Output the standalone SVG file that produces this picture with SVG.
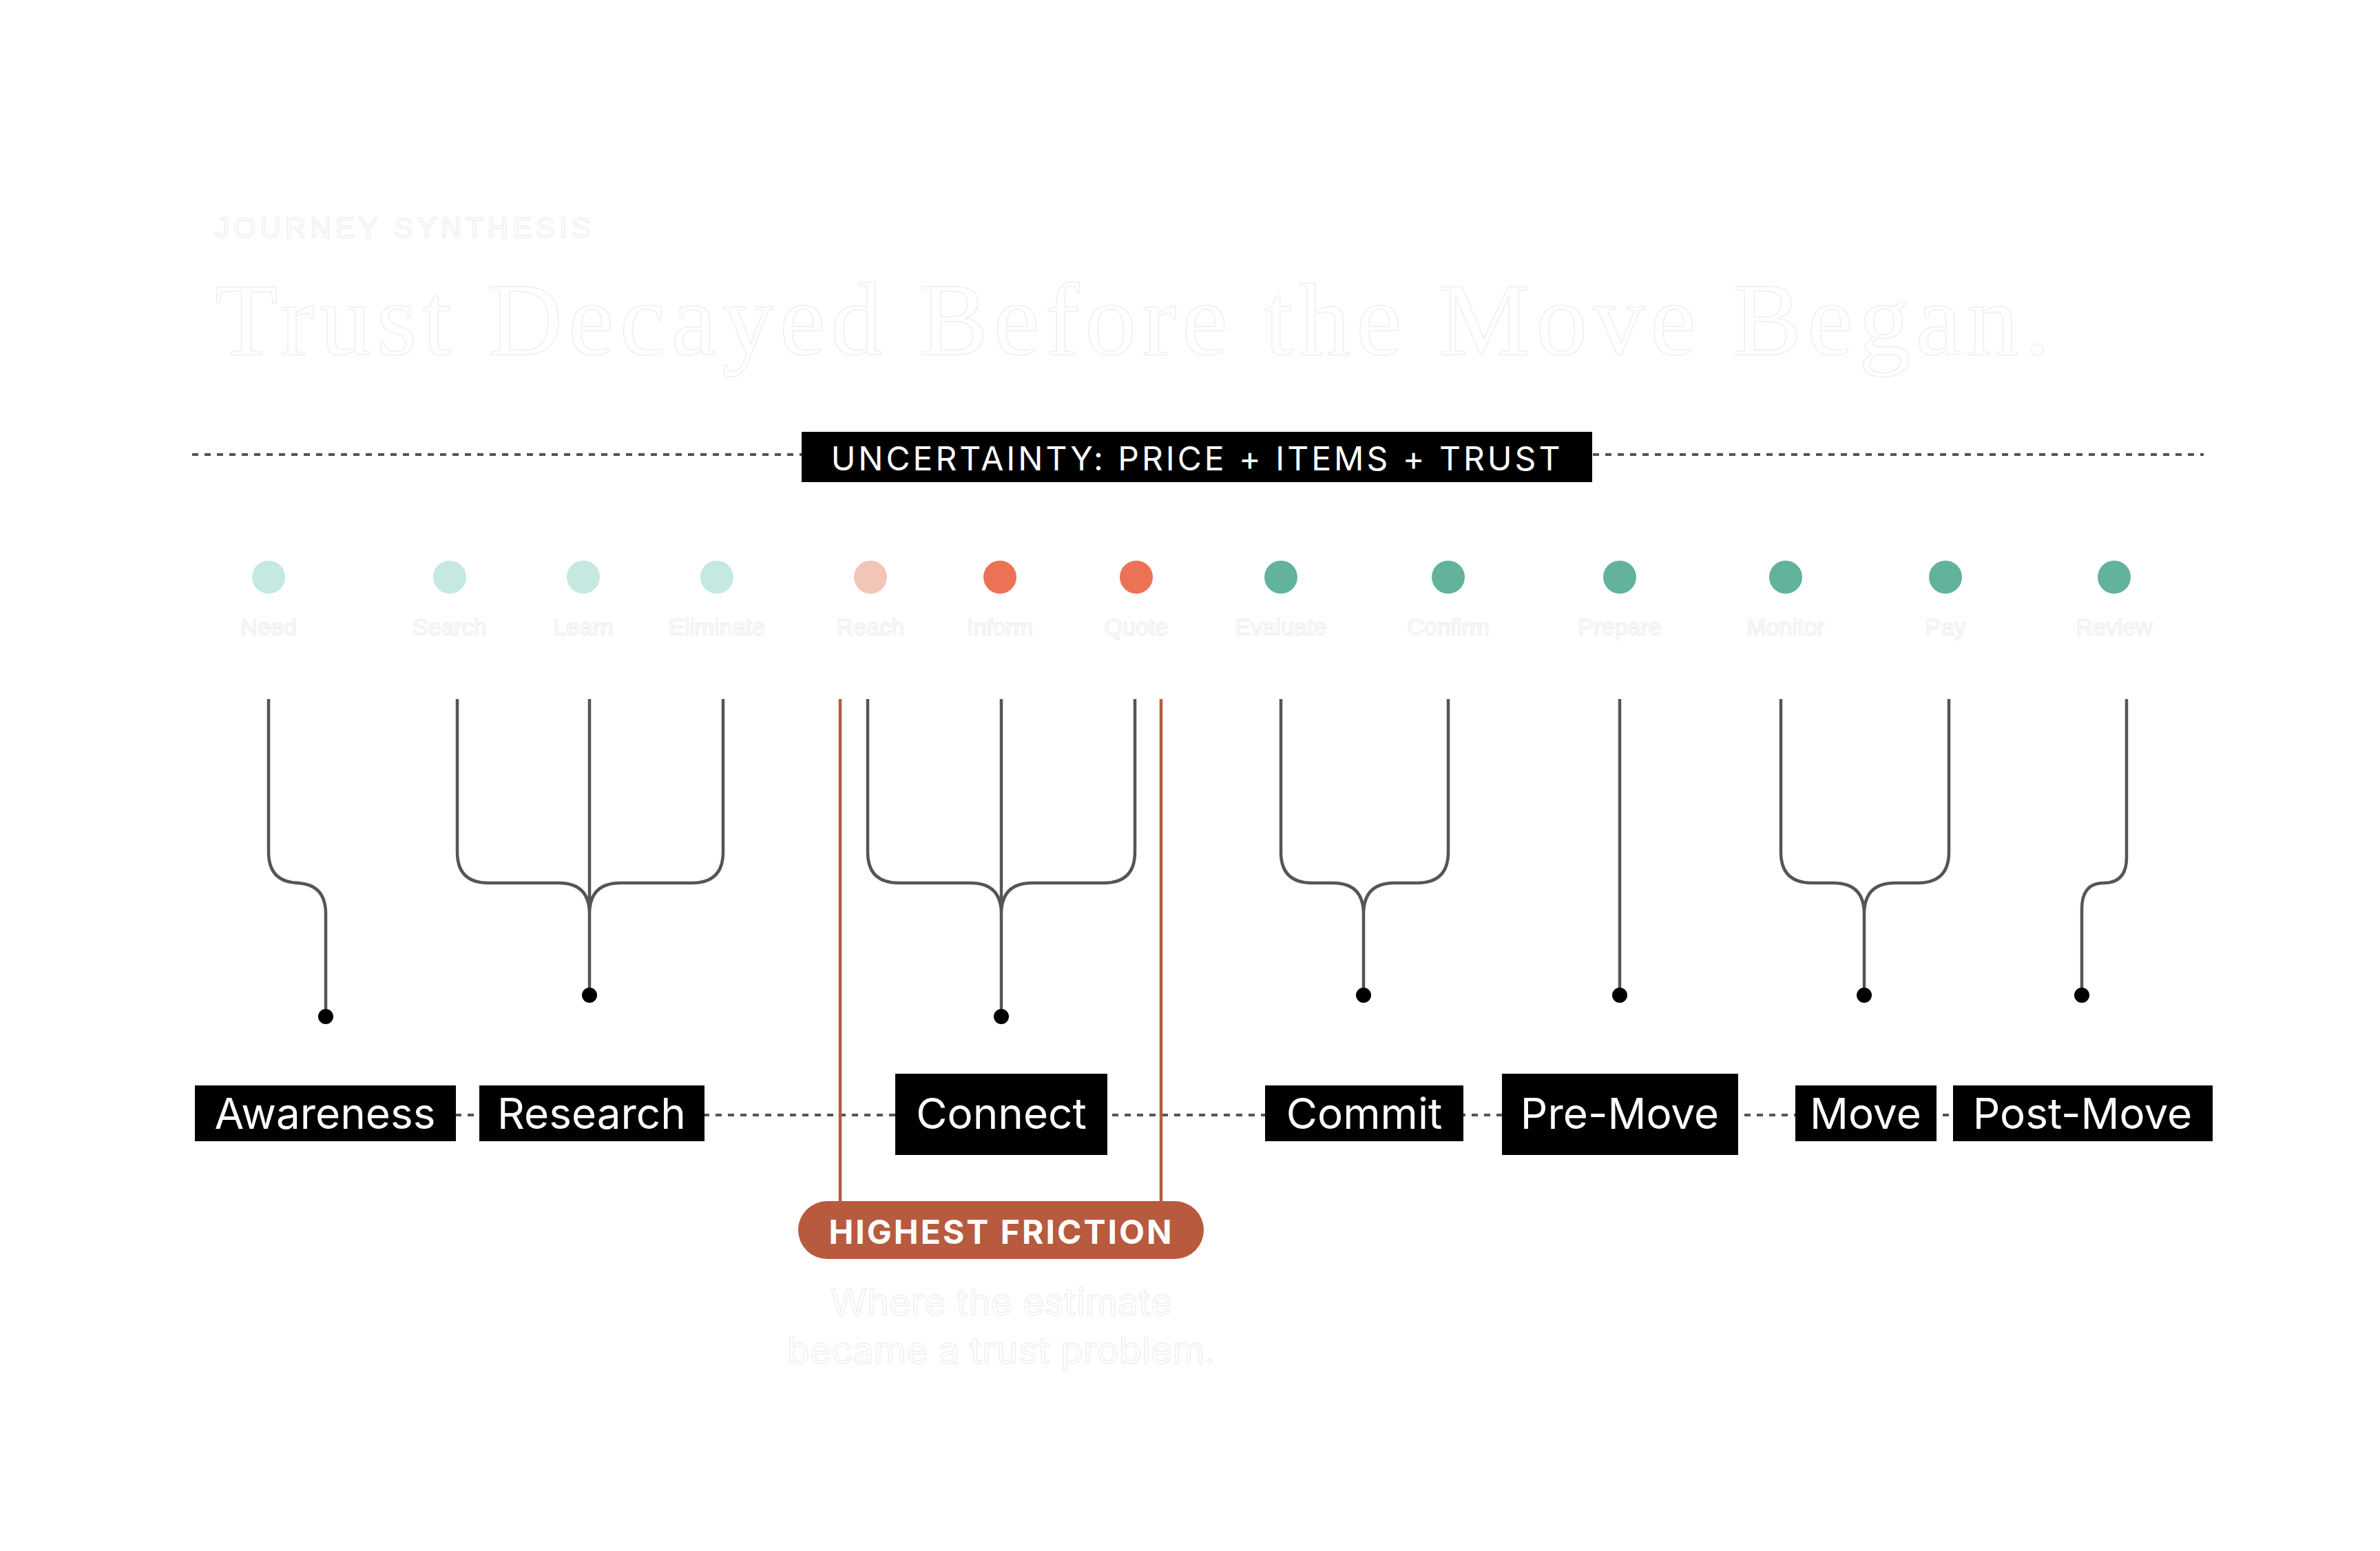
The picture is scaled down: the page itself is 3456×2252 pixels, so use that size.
<svg xmlns="http://www.w3.org/2000/svg" width="3456" height="2252" viewBox="0 0 3456 2252">
<style>
.ghost{fill:#ffffff;stroke:#efefef;stroke-width:1.5}
.dl{font-family:"Liberation Sans",Arial,sans-serif;font-size:34px;text-anchor:middle}
.path{fill:none;stroke:#555555;stroke-width:4.5}
.lbl{fill:#000}
.lt{font-family:Inter,"Noto Sans",sans-serif;font-size:62px;fill:#ffffff;text-anchor:middle;dominant-baseline:central}
.dash{stroke:#555;stroke-width:4;stroke-dasharray:9 9}
.red{stroke:#b85a3e;stroke-width:4.5}
</style>
<rect width="3456" height="2252" fill="#ffffff"/>
<g id="title">
<text x="312" y="345" class="ghost" font-family="Liberation Sans,Arial,sans-serif" font-size="42" letter-spacing="6">JOURNEY SYNTHESIS</text>
<text x="312" y="515" class="ghost" font-family="Liberation Serif,Times New Roman,serif" font-size="150" textLength="2665">Trust Decayed Before the Move Began.</text>
</g>
<g id="connectors">
<line class="dash" x1="279" y1="660" x2="3200" y2="660"/>
<line class="dash" x1="283" y1="1619" x2="3213" y2="1619"/>
<path class="path" d="M390 1015V1237Q390 1282 435 1282H428Q473 1282 473 1327V1476"/>
<path class="path" d="M664 1015V1237Q664 1282 709 1282H811Q856 1282 856 1327M1050 1015V1237Q1050 1282 1005 1282H901Q856 1282 856 1327M856 1015V1445"/>
<path class="path" d="M1260 1015V1237Q1260 1282 1305 1282H1409Q1454 1282 1454 1327M1648 1015V1237Q1648 1282 1603 1282H1499Q1454 1282 1454 1327M1454 1015V1476"/>
<path class="path" d="M1860 1015V1237Q1860 1282 1905 1282H1935Q1980 1282 1980 1327M2103 1015V1237Q2103 1282 2058 1282H2025Q1980 1282 1980 1327V1445"/>
<path class="path" d="M2352 1015V1445"/>
<path class="path" d="M2586 1015V1237Q2586 1282 2631 1282H2662Q2707 1282 2707 1327M2830 1015V1237Q2830 1282 2785 1282H2752Q2707 1282 2707 1327V1445"/>
<path class="path" d="M3088 1015V1245Q3088 1282 3055 1282Q3023 1282 3023 1320V1445"/>
<g fill="#000"><circle cx="473" cy="1476" r="11"/><circle cx="856" cy="1445" r="11"/><circle cx="1454" cy="1476" r="11"/><circle cx="1980" cy="1445" r="11"/><circle cx="2352" cy="1445" r="11"/><circle cx="2707" cy="1445" r="11"/><circle cx="3023" cy="1445" r="11"/></g>
<line class="red" x1="1220" y1="1015" x2="1220" y2="1744"/>
<line class="red" x1="1686" y1="1015" x2="1686" y2="1744"/>
</g>
<g id="uncertainty">
<rect x="1164" y="627" width="1148" height="73" fill="#000"/>
<text x="1738" y="665" font-family="Inter,Noto Sans,sans-serif" font-size="48" fill="#fff" text-anchor="middle" dominant-baseline="central" letter-spacing="4">UNCERTAINTY: PRICE + ITEMS + TRUST</text>
</g>
<g id="steps">
<circle cx="390" cy="838" r="24" fill="#c5e8e0"/><text class="dl ghost" x="390" y="922">Need</text>
<circle cx="653" cy="838" r="24" fill="#c5e8e0"/><text class="dl ghost" x="653" y="922">Search</text>
<circle cx="847" cy="838" r="24" fill="#c5e8e0"/><text class="dl ghost" x="847" y="922">Learn</text>
<circle cx="1041" cy="838" r="24" fill="#c5e8e0"/><text class="dl ghost" x="1041" y="922">Eliminate</text>
<circle cx="1264" cy="838" r="24" fill="#f2c5b6"/><text class="dl ghost" x="1264" y="922">Reach</text>
<circle cx="1452" cy="838" r="24" fill="#ec7256"/><text class="dl ghost" x="1452" y="922">Inform</text>
<circle cx="1650" cy="838" r="24" fill="#ec7256"/><text class="dl ghost" x="1650" y="922">Quote</text>
<circle cx="1860" cy="838" r="24" fill="#62b29c"/><text class="dl ghost" x="1860" y="922">Evaluate</text>
<circle cx="2103" cy="838" r="24" fill="#62b29c"/><text class="dl ghost" x="2103" y="922">Confirm</text>
<circle cx="2352" cy="838" r="24" fill="#62b29c"/><text class="dl ghost" x="2352" y="922">Prepare</text>
<circle cx="2593" cy="838" r="24" fill="#62b29c"/><text class="dl ghost" x="2593" y="922">Monitor</text>
<circle cx="2825" cy="838" r="24" fill="#62b29c"/><text class="dl ghost" x="2825" y="922">Pay</text>
<circle cx="3070" cy="838" r="24" fill="#62b29c"/><text class="dl ghost" x="3070" y="922">Review</text>
</g>
<g id="awareness"><rect class="lbl" x="283" y="1576" width="379" height="81"/><text class="lt" x="472" y="1616">Awareness</text></g>
<g id="research"><rect class="lbl" x="696" y="1576" width="327" height="81"/><text class="lt" x="859" y="1616">Research</text></g>
<g id="connect"><rect class="lbl" x="1300" y="1559" width="308" height="118"/><text class="lt" x="1454" y="1616">Connect</text></g>
<g id="commit"><rect class="lbl" x="1837" y="1576" width="288" height="81"/><text class="lt" x="1981" y="1616">Commit</text></g>
<g id="premove"><rect class="lbl" x="2181" y="1559" width="343" height="118"/><text class="lt" x="2352" y="1616">Pre-Move</text></g>
<g id="move"><rect class="lbl" x="2607" y="1576" width="205" height="81"/><text class="lt" x="2709" y="1616">Move</text></g>
<g id="postmove"><rect class="lbl" x="2836" y="1576" width="377" height="81"/><text class="lt" x="3024" y="1616">Post-Move</text></g>
<g id="friction">
<rect x="1159" y="1744" width="589" height="84" rx="42" fill="#b85a3e"/>
<text x="1454" y="1788" font-family="Inter,Noto Sans,sans-serif" font-weight="700" font-size="48" fill="#fff" text-anchor="middle" dominant-baseline="central" letter-spacing="3">HIGHEST FRICTION</text>
<text x="1454" y="1910" class="ghost" font-family="Inter,Noto Sans,sans-serif" font-size="54" text-anchor="middle">Where the estimate</text>
<text x="1454" y="1980" class="ghost" font-family="Inter,Noto Sans,sans-serif" font-size="54" text-anchor="middle">became a trust problem.</text>
</g>
</svg>
